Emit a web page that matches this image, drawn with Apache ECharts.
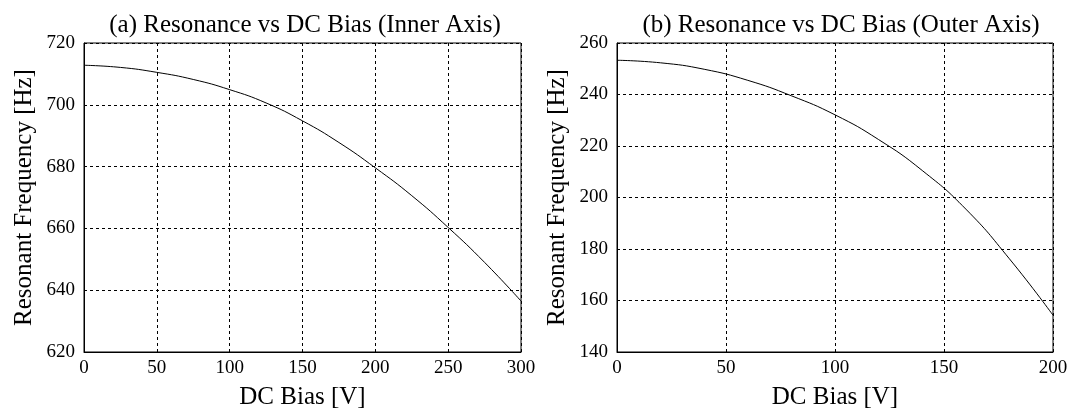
<!DOCTYPE html>
<html>
<head>
<meta charset="utf-8">
<script src="https://cdn.jsdelivr.net/npm/echarts@6/dist/echarts.min.js"></script>
<style>
  html, body { margin: 0; padding: 0; background: #fff; }
  #chart { width: 1073px; height: 417px; }
</style>
</head>
<body>
<div id="chart"></div>
<script>
// (a) inner axis
const innerBias = [0, 25, 50, 75, 100, 125, 150, 175, 200, 225, 250, 275, 300]
const innerFreq = [712.8, 712.1, 710.5, 708.2, 704.9, 700.6, 694.8, 687.8, 679.6, 670.6, 660.3, 649.0, 636.5]
// (b) outer axis
const outerBias = [0, 20, 40, 60, 80, 100, 120, 140, 160, 180, 200]
const outerFreq = [253.3, 252.3, 249.8, 245.5, 239.5, 232.1, 222.5, 210.5, 195.5, 176.2, 154.3]

const titles = ['(a) Resonance vs DC Bias (Inner Axis)', '(b) Resonance vs DC Bias (Outer Axis)']
const xName = 'DC Bias [V]'
const yName = 'Resonant Frequency [Hz]'

var font = 'Liberation Serif'
var chart = echarts.init(document.getElementById('chart'))

function pairs(xs, ys){
  var out = []
  for (var i = 0; i < xs.length; i++) out.push([xs[i], ys[i]])
  return out
}

function xAxis(idx, max){
  return {
    type: 'value', gridIndex: idx, min: 0, max: max, interval: 50,
    name: xName, nameLocation: 'middle', nameGap: 33,
    nameTextStyle: { fontFamily: font, fontSize: 25, color: '#000' },
    axisLine: { show: true, onZero: false, lineStyle: { color: '#000', width: 1 } },
    axisTick: { show: false },
    axisLabel: { fontFamily: font, fontSize: 19, color: '#000', margin: 7 },
    splitLine: { show: true, lineStyle: { color: '#000', type: [3, 3], width: 1 } }
  }
}
function yAxis(idx, min, max){
  return {
    type: 'value', gridIndex: idx, min: min, max: max, interval: 20,
    name: yName, nameLocation: 'middle', nameGap: 47,
    nameTextStyle: { fontFamily: font, fontSize: 25, color: '#000' },
    axisLine: { show: true, lineStyle: { color: '#000', width: 1 } },
    axisTick: { show: false },
    axisLabel: { fontFamily: font, fontSize: 19, color: '#000', margin: 9 },
    splitLine: { show: true, lineStyle: { color: '#000', type: [3, 3], width: 1 } }
  }
}

var option = {
  animation: false,
  backgroundColor: '#fff',
  title: [
    { text: titles[0], left: 300, top: 8, textAlign: 'center',
      textStyle: { fontFamily: font, fontSize: 25, fontWeight: 'normal', color: '#000' } },
    { text: titles[1], left: 836, top: 8, textAlign: 'center',
      textStyle: { fontFamily: font, fontSize: 25, fontWeight: 'normal', color: '#000' } }
  ],
  grid: [
    { left: 84, right: 552, top: 43, bottom: 65, show: true, borderColor: '#000', borderWidth: 1 },
    { left: 617, right: 20, top: 43, bottom: 65, show: true, borderColor: '#000', borderWidth: 1 }
  ],
  xAxis: [xAxis(0, 300), xAxis(1, 200)],
  yAxis: [yAxis(0, 620, 720), yAxis(1, 140, 260)],
  series: [
    { type: 'line', xAxisIndex: 0, yAxisIndex: 0, data: pairs(innerBias, innerFreq),
      smooth: true, showSymbol: false, lineStyle: { color: '#000', width: 1 } },
    { type: 'line', xAxisIndex: 1, yAxisIndex: 1, data: pairs(outerBias, outerFreq),
      smooth: true, showSymbol: false, lineStyle: { color: '#000', width: 1 } }
  ]
}
chart.setOption(option)
</script>
</body>
</html>
